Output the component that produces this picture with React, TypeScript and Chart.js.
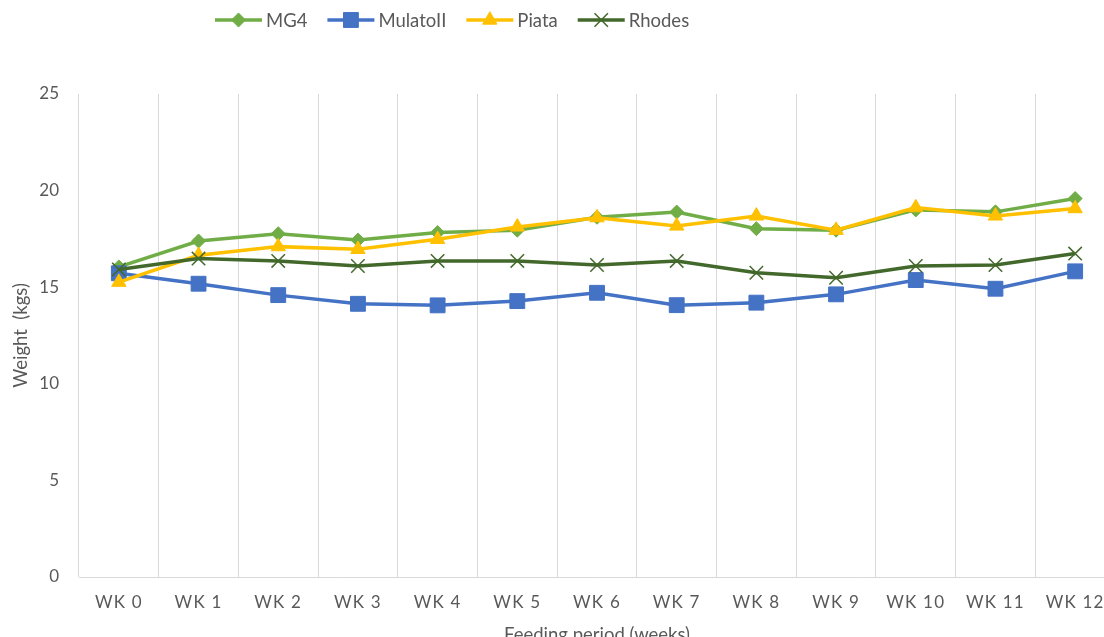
import React, { useEffect, useRef } from 'react';
import { Chart, registerables } from 'chart.js';

Chart.register(...registerables);

// ---- data ----
const categories = ['WK 0', 'WK 1', 'WK 2', 'WK 3', 'WK 4', 'WK 5', 'WK 6', 'WK 7', 'WK 8', 'WK 9', 'WK 10', 'WK 11', 'WK 12'];
const mg4Values = [16.05, 17.39, 17.77, 17.44, 17.83, 17.95, 18.62, 18.89, 18.03, 17.95, 19.0, 18.9, 19.59];
const mulatoValues = [15.72, 15.18, 14.59, 14.14, 14.06, 14.28, 14.71, 14.07, 14.2, 14.63, 15.37, 14.92, 15.82];
const piataValues = [15.26, 16.65, 17.1, 16.96, 17.48, 18.12, 18.6, 18.17, 18.69, 17.95, 19.12, 18.69, 19.07];
const rhodesValues = [15.92, 16.48, 16.36, 16.1, 16.36, 16.36, 16.15, 16.36, 15.75, 15.49, 16.1, 16.15, 16.74];
const seriesNames = ['MG4', 'MulatoII', 'Piata', 'Rhodes'];
const yMin = 0;
const yMax = 25;
const yStep = 5;
const xTitle = 'Feeding period (weeks)';
const yTitle = 'Weight  (kgs)';

// ---- styles ----
const FONT = 'Lato, "Open Sans", sans-serif';
const TEXT = '#595959';
const GRID = '#D9D9D9';
const COLORS = ['#70AD47', '#4472C4', '#FFC000', '#43682B'];

function drawMarker(ctx: CanvasRenderingContext2D, style: string, x: number, y: number, r: number, fill: string, stroke: string, bw: number) {
  ctx.save();
  ctx.beginPath();
  if (style === 'rectRot') {
    ctx.moveTo(x - r, y);
    ctx.lineTo(x, y - r);
    ctx.lineTo(x + r, y);
    ctx.lineTo(x, y + r);
    ctx.closePath();
  } else if (style === 'rect') {
    const s = Math.SQRT1_2 * r;
    ctx.rect(x - s, y - s, 2 * s, 2 * s);
  } else if (style === 'triangle') {
    let a = 0;
    ctx.moveTo(x + Math.sin(a) * r, y - Math.cos(a) * r);
    a += (2 * Math.PI) / 3;
    ctx.lineTo(x + Math.sin(a) * r, y - Math.cos(a) * r);
    a += (2 * Math.PI) / 3;
    ctx.lineTo(x + Math.sin(a) * r, y - Math.cos(a) * r);
    ctx.closePath();
  } else if (style === 'crossRot') {
    const o = Math.SQRT1_2 * r;
    ctx.moveTo(x - o, y - o);
    ctx.lineTo(x + o, y + o);
    ctx.moveTo(x - o, y + o);
    ctx.lineTo(x + o, y - o);
  }
  if (style !== 'crossRot') {
    ctx.fillStyle = fill;
    ctx.fill();
  }
  ctx.lineWidth = bw;
  ctx.strokeStyle = stroke;
  ctx.stroke();
  ctx.restore();
}

const legendPlugin = {
  id: 'customLegend',
  afterDraw(chart: any) {
    const ctx: CanvasRenderingContext2D = chart.ctx;
    ctx.save();
    (ctx as any).letterSpacing = '0px';
    ctx.font = `18.5px ${FONT}`;
    ctx.textBaseline = 'middle';
    ctx.textAlign = 'left';
    let x = 215;
    const y = 20;
    chart.data.datasets.forEach((ds: any) => {
      ctx.strokeStyle = ds.borderColor;
      ctx.lineWidth = ds.borderWidth;
      ctx.beginPath();
      ctx.moveTo(x, y);
      ctx.lineTo(x + 47, y);
      ctx.stroke();
      drawMarker(ctx, ds.pointStyle, x + 23.5, y, ds.pointRadius, ds.pointBackgroundColor, ds.pointBorderColor, ds.pointBorderWidth);
      ctx.fillStyle = TEXT;
      ctx.fillText(ds.label, x + 51, y + 1);
      x += 51 + ctx.measureText(ds.label).width + 20;
    });
    ctx.restore();
  },
};

const spacingPlugin = {
  id: 'xLetterSpacing',
  afterDatasetsDraw(chart: any) {
    (chart.ctx as any).letterSpacing = '1.2px';
  },
  afterDraw(chart: any) {
    (chart.ctx as any).letterSpacing = '0px';
  },
};

const CANVAS_H = 660;
const PLOT_BOTTOM = 577;

export default function App() {
  const ref = useRef<HTMLCanvasElement>(null);

  useEffect(() => {
    const mk = (i: number, data: number[], style: string, r: number, order: number, fill?: string, bw = 1) => ({
      label: seriesNames[i],
      data,
      borderColor: COLORS[i],
      backgroundColor: COLORS[i],
      borderWidth: 3.5,
      pointStyle: style,
      pointRadius: r,
      pointHoverRadius: r,
      pointBackgroundColor: fill ?? COLORS[i],
      pointBorderColor: COLORS[i],
      pointBorderWidth: bw,
      tension: 0,
      order,
      clip: false as any,
    });

    const chart = new Chart(ref.current!, {
      type: 'line',
      data: {
        labels: categories,
        datasets: [
          mk(0, mg4Values, 'rectRot', 7, 4),
          mk(1, mulatoValues, 'rect', 10.5, 3),
          mk(2, piataValues, 'triangle', 8.3, 2),
          mk(3, rhodesValues, 'crossRot', 9.5, 1, 'rgba(0,0,0,0)', 1.5),
        ] as any,
      },
      options: {
        animation: false,
        responsive: true,
        maintainAspectRatio: false,
        layout: { padding: { top: 94, right: 15, bottom: 0, left: 0 } },
        plugins: {
          legend: { display: false },
          tooltip: { enabled: false },
          title: { display: false },
        },
        scales: {
          x: {
            type: 'category',
            offset: true,
            grid: { display: true, offset: true, color: GRID, lineWidth: 1, drawTicks: false },
            border: { display: true, color: GRID, width: 1 },
            ticks: {
              color: TEXT,
              font: { family: FONT, size: 17 },
              padding: 15,
              autoSkip: false,
              maxRotation: 0,
              minRotation: 0,
              z: 1,
            },
            title: {
              display: true,
              text: xTitle,
              color: TEXT,
              font: { family: FONT, size: 18.5 },
              padding: { top: 0, bottom: 14 },
            },
            afterFit(scale: any) {
              scale.height = CANVAS_H - PLOT_BOTTOM;
            },
          },
          y: {
            min: yMin,
            max: yMax,
            grid: { display: false, drawTicks: false },
            border: { display: false },
            ticks: {
              stepSize: yStep,
              color: TEXT,
              font: { family: FONT, size: 17 },
              padding: 20,
            },
            title: {
              display: true,
              text: yTitle,
              color: TEXT,
              font: { family: FONT, size: 18.5 },
              padding: { top: 10, bottom: 0 },
            },
            afterFit(scale: any) {
              scale.width = 79;
            },
          },
        },
      },
      plugins: [spacingPlugin, legendPlugin],
    });
    return () => chart.destroy();
  }, []);

  return (
    <div style={{ position: 'fixed', left: 0, top: 0, width: 1104, height: 637, overflow: 'hidden', background: '#ffffff' }}>
      <div style={{ position: 'relative', width: 1130, height: CANVAS_H }}>
        <canvas ref={ref} />
      </div>
    </div>
  );
}
